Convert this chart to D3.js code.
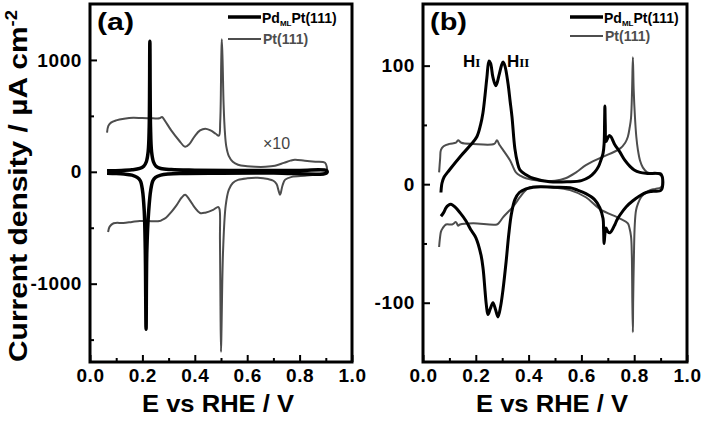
<!DOCTYPE html>
<html>
<head>
<meta charset="utf-8">
<script src="https://cdn.jsdelivr.net/npm/d3@7"></script>
<style>
  body { margin: 0; background: #fff; }
  svg { display: block; font-family: "Liberation Sans", Arial, sans-serif; }
</style>
</head>
<body>
<svg id="chart" width="704" height="428"></svg>
<script>
// tick values
const xTicks = [0, 0.2, 0.4, 0.6, 0.8, 1.0];
const xMinorTicks = [0.1, 0.3, 0.5, 0.7, 0.9];
const yTicksA = [-1000, 0, 1000];
const yMinorA = [-1500, -500, 500];
const yTicksB = [-100, 0, 100];
const yMinorB = [-50, 50];

// (a) Pd_ML Pt(111): [E / V, j / uA cm-2], anodic then cathodic sweep
const pdAnodicA = [[0.065, 10], [0.12, 12], [0.16, 18], [0.19, 30], [0.205, 50], [0.215, 90], [0.222, 180],
  [0.226, 400], [0.2285, 1166], [0.231, 400], [0.235, 180], [0.242, 90], [0.252, 50], [0.27, 30],
  [0.31, 20], [0.4, 15], [0.6, 12], [0.8, 12], [0.903, 10]];
const pdCathodicA = [[0.903, -10], [0.7, -10], [0.5, -12], [0.35, -15], [0.3, -20], [0.27, -30], [0.25, -50],
  [0.24, -80], [0.232, -160], [0.224, -350], [0.217, -700], [0.214, -1408], [0.211, -700], [0.207, -350],
  [0.2, -160], [0.192, -80], [0.18, -50], [0.16, -30], [0.13, -20], [0.1, -15], [0.065, -12]];

// (a) Pt(111), shown x10
const ptAnodicA = [[0.065, 350], [0.07, 410], [0.08, 440], [0.1, 460], [0.13, 475], [0.165, 484], [0.2, 480],
  [0.24, 478], [0.265, 478], [0.275, 490], [0.285, 460], [0.31, 370], [0.34, 280], [0.363, 224], [0.38, 250],
  [0.4, 320], [0.42, 370], [0.44, 386], [0.46, 370], [0.48, 340], [0.492, 323], [0.497, 450], [0.501, 1000],
  [0.503, 1184], [0.506, 1000], [0.51, 600], [0.515, 350], [0.52, 230], [0.53, 140], [0.545, 90],
  [0.565, 63], [0.6, 50], [0.63, 45], [0.67, 45], [0.706, 54], [0.74, 80], [0.765, 100], [0.782, 108],
  [0.82, 99], [0.86, 90], [0.897, 81], [0.904, 40]];
const ptCathodicA = [[0.904, -12], [0.88, -22], [0.86, -27], [0.82, -35], [0.77, -45], [0.745, -70],
  [0.735, -120], [0.728, -190], [0.725, -206], [0.72, -170], [0.712, -110], [0.7, -80], [0.68, -65],
  [0.64, -54], [0.6, -58], [0.565, -72], [0.545, -100], [0.53, -160], [0.518, -300], [0.508, -700],
  [0.502, -1400], [0.5, -1610], [0.498, -1200], [0.496, -600], [0.494, -330], [0.489, -314], [0.47, -340],
  [0.44, -365], [0.42, -368], [0.4, -320], [0.38, -250], [0.363, -206], [0.35, -230], [0.33, -300],
  [0.31, -360], [0.29, -410], [0.275, -430], [0.265, -440], [0.22, -440], [0.19, -440], [0.16, -448],
  [0.127, -457], [0.09, -460], [0.075, -490], [0.069, -538]];

// (b) Pd_ML Pt(111)
const pdAnodicB = [[0.068, -7], [0.072, 1], [0.08, 6], [0.1, 12], [0.14, 23], [0.18, 33], [0.204, 40],
  [0.218, 50], [0.227, 60], [0.235, 75], [0.242, 90], [0.25, 104], [0.256, 102], [0.265, 90], [0.276, 83],
  [0.288, 92], [0.297, 100], [0.303, 103], [0.31, 100], [0.322, 85], [0.33, 70], [0.337, 57], [0.348, 30],
  [0.358, 18], [0.367, 12], [0.39, 8], [0.417, 5], [0.48, 2], [0.55, 2], [0.6, 3], [0.63, 6], [0.65, 10],
  [0.665, 15], [0.675, 21], [0.682, 26], [0.686, 34], [0.688, 55], [0.689, 66], [0.6905, 50], [0.693, 36],
  [0.698, 38], [0.705, 41], [0.712, 40], [0.725, 34], [0.746, 27], [0.765, 20], [0.784, 15], [0.8, 12],
  [0.822, 10], [0.85, 9], [0.902, 8]];
const pdCathodicB = [[0.902, -5], [0.87, -6], [0.845, -7], [0.82, -10], [0.795, -14], [0.77, -19],
  [0.746, -26], [0.735, -30], [0.727, -34], [0.718, -38], [0.708, -41], [0.7, -40], [0.693, -37],
  [0.689, -42], [0.686, -50], [0.684, -38], [0.682, -29], [0.67, -20], [0.65, -13], [0.617, -8],
  [0.585, -5], [0.557, -3], [0.5, -2.5], [0.417, -2.5], [0.39, -4], [0.365, -7], [0.348, -13],
  [0.335, -25], [0.325, -42], [0.315, -65], [0.303, -89], [0.294, -103], [0.284, -112], [0.275, -106],
  [0.265, -100], [0.255, -105], [0.246, -110], [0.24, -102], [0.235, -90], [0.228, -72], [0.22, -60],
  [0.2, -45], [0.18, -38], [0.163, -31], [0.14, -24], [0.12, -19], [0.106, -17], [0.095, -18],
  [0.087, -20], [0.078, -24], [0.068, -27]];

// (b) Pt(111)
const ptAnodicB = [[0.061, 10], [0.065, 22], [0.068, 29], [0.078, 32], [0.1, 34], [0.125, 35], [0.133, 37],
  [0.145, 35], [0.19, 34], [0.27, 34], [0.28, 37], [0.29, 33], [0.303, 29], [0.33, 20], [0.352, 10],
  [0.37, 7], [0.39, 5], [0.443, 3], [0.5, 3], [0.54, 5], [0.58, 10], [0.617, 16], [0.67, 22], [0.746, 30],
  [0.766, 35], [0.776, 40], [0.783, 48], [0.788, 56], [0.792, 80], [0.795, 107], [0.798, 80], [0.803, 56],
  [0.808, 40], [0.814, 29], [0.822, 20], [0.833, 14], [0.85, 10], [0.871, 9], [0.902, 9]];
const ptCathodicB = [[0.902, -2.5], [0.88, -4], [0.86, -5], [0.84, -8], [0.826, -11], [0.815, -16],
  [0.807, -22], [0.802, -35], [0.799, -60], [0.796, -100], [0.795, -125], [0.793, -100], [0.791, -60],
  [0.788, -44], [0.782, -37], [0.776, -33], [0.746, -29], [0.67, -21], [0.617, -11], [0.557, -5],
  [0.5, -3], [0.405, -2.5], [0.385, -6], [0.367, -11], [0.341, -19], [0.303, -28], [0.29, -32],
  [0.28, -34], [0.19, -33], [0.14, -34], [0.133, -35], [0.125, -32], [0.11, -34], [0.087, -34],
  [0.075, -37], [0.068, -40], [0.064, -46], [0.061, -53]];

const PD_COLOR = '#000';
const PT_COLOR = '#4d4d4d';

const svg = d3.select('#chart');
svg.append('rect').attr('width', 704).attr('height', 428).attr('fill', '#fff');

const panels = [
  {
    label: '(a)', left: 90, right: 352, yDomain: [-1700, 1500], yTicks: yTicksA, yMinor: yMinorA,
    pd: pdAnodicA.concat(pdCathodicA), pt: ptAnodicA.concat(ptCathodicA), pdWidth: 3.5,
    legendX: 228, legendY: [17, 39]
  },
  {
    label: '(b)', left: 423, right: 687, yDomain: [-150, 152], yTicks: yTicksB, yMinor: yMinorB,
    pd: pdAnodicB.concat(pdCathodicB), pt: ptAnodicB.concat(ptCathodicB), pdWidth: 3,
    legendX: 570, legendY: [17, 36]
  }
];

const plotTop = 4, plotBottom = 362;

panels.forEach(p => {
  const g = svg.append('g');
  const x = d3.scaleLinear().domain([0, 1]).range([p.left, p.right]);
  const y = d3.scaleLinear().domain(p.yDomain).range([plotBottom, plotTop]);

  // X axis (ticks point inward)
  g.append('g')
    .attr('transform', `translate(0,${plotBottom})`)
    .call(d3.axisBottom(x).tickValues(xTicks).tickSize(-7).tickPadding(7).tickFormat(d3.format('.1f')))
    .attr('class', 'axis');
  g.append('g')
    .attr('transform', `translate(0,${plotBottom})`)
    .call(d3.axisBottom(x).tickValues(xMinorTicks).tickSize(-4).tickFormat(() => ''))
    .attr('class', 'axis');

  // Y axis - plain hyphen for negatives, like the original
  g.append('g')
    .attr('transform', `translate(${p.left},0)`)
    .call(d3.axisLeft(y).tickValues(p.yTicks).tickSize(-7).tickPadding(8).tickFormat(d => String(d)))
    .attr('class', 'axis');
  g.append('g')
    .attr('transform', `translate(${p.left},0)`)
    .call(d3.axisLeft(y).tickValues(p.yMinor).tickSize(-4).tickFormat(() => ''))
    .attr('class', 'axis');

  g.selectAll('.axis path').remove();
  g.selectAll('.axis line').attr('stroke', '#000').attr('stroke-width', 2);
  g.selectAll('.axis text')
    .attr('font-family', '"Liberation Sans", Arial, sans-serif')
    .attr('font-size', 19).attr('font-weight', 'bold').attr('fill', '#000')
    .attr('letter-spacing', 0.6);

  // Lines
  const line = d3.line()
    .x(d => x(d[0]))
    .y(d => y(d[1]))
    .curve(d3.curveCatmullRom.alpha(0.5));

  g.append('path').datum(p.pt)
    .attr('fill', 'none').attr('stroke', PT_COLOR).attr('stroke-width', 2)
    .attr('stroke-linejoin', 'round').attr('d', line);
  g.append('path').datum(p.pd)
    .attr('fill', 'none').attr('stroke', PD_COLOR).attr('stroke-width', p.pdWidth)
    .attr('stroke-linejoin', 'round').attr('d', line);

  // Frame
  g.append('rect')
    .attr('x', p.left).attr('y', plotTop)
    .attr('width', p.right - p.left).attr('height', plotBottom - plotTop)
    .attr('fill', 'none').attr('stroke', '#000').attr('stroke-width', 3);

  // Panel label
  g.append('text').attr('x', p.left + 7).attr('y', 30)
    .attr('font-size', 24).attr('font-weight', 'bold')
    .attr('textLength', 37).attr('lengthAdjust', 'spacingAndGlyphs').text(p.label);

  // Legend
  g.append('line').attr('x1', p.legendX).attr('x2', p.legendX + 33)
    .attr('y1', p.legendY[0]).attr('y2', p.legendY[0])
    .attr('stroke', PD_COLOR).attr('stroke-width', 3.5);
  const t1 = g.append('text').attr('x', p.legendX + 34).attr('y', p.legendY[0] + 6)
    .attr('font-size', 14).attr('font-weight', 'bold');
  t1.append('tspan').text('Pd');
  t1.append('tspan').attr('font-size', 8).attr('dy', 3).text('ML');
  t1.append('tspan').attr('dy', -3).text('Pt(111)');

  g.append('line').attr('x1', p.legendX).attr('x2', p.legendX + 33)
    .attr('y1', p.legendY[1]).attr('y2', p.legendY[1])
    .attr('stroke', PT_COLOR).attr('stroke-width', 2);
  g.append('text').attr('x', p.legendX + 35).attr('y', p.legendY[1] + 5)
    .attr('font-size', 14).attr('font-weight', 'bold').attr('fill', PT_COLOR).text('Pt(111)');

  // X title
  g.append('text')
    .attr('x', (p.left + p.right) / 2 - 3).attr('y', 412)
    .attr('text-anchor', 'middle').attr('font-size', 24).attr('font-weight', 'bold')
    .attr('textLength', 152).attr('lengthAdjust', 'spacingAndGlyphs')
    .text('E vs RHE / V');
});

// Y title
const yTitle = svg.append('text')
  .attr('transform', 'translate(27,362) rotate(-90)')
  .attr('font-size', 26).attr('font-weight', 'bold')
  .attr('textLength', 352).attr('lengthAdjust', 'spacingAndGlyphs');
yTitle.append('tspan').text('Current density / \u00b5A cm');
yTitle.append('tspan').attr('font-size', 16).attr('dy', -10).text('-2');

// x10 note in (a)
svg.append('text').attr('x', 263).attr('y', 149)
  .attr('font-size', 16).attr('fill', '#444').text('\u00d710');

// H_I / H_II labels in (b)
[['I', 463], ['II', 507]].forEach(([sub, xPos]) => {
  const t = svg.append('text').attr('x', xPos).attr('y', 67)
    .attr('font-size', 17).attr('font-weight', 'bold');
  t.append('tspan').text('H');
  t.append('tspan').attr('font-family', '"Liberation Serif", serif').attr('font-size', 13).text(sub);
});
</script>
</body>
</html>
